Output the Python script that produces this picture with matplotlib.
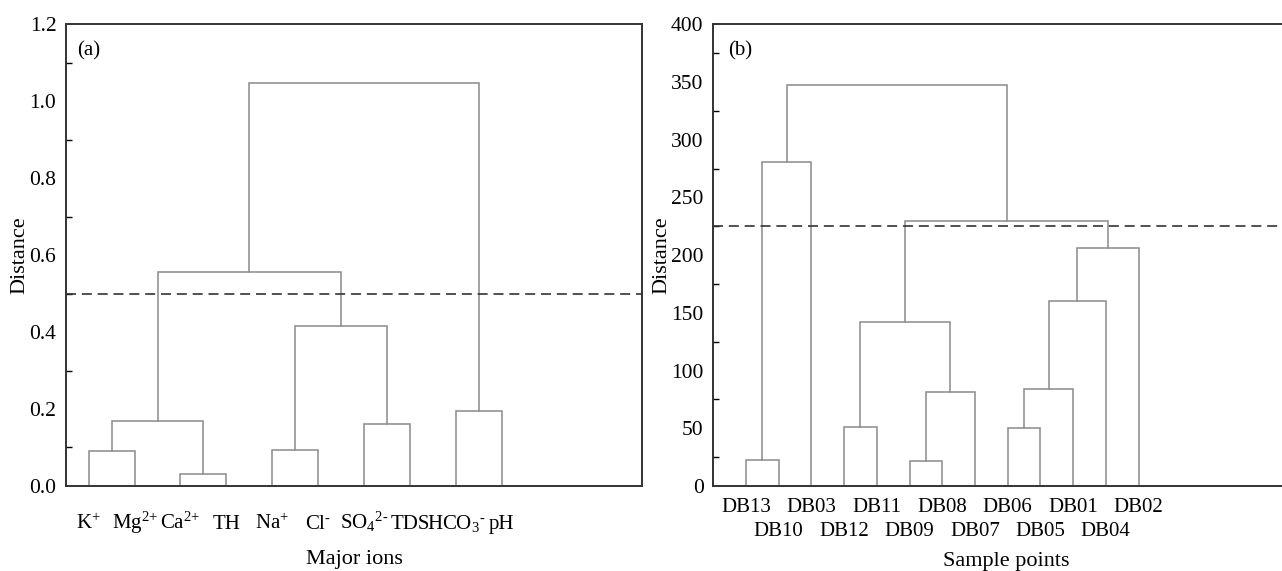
import matplotlib
matplotlib.use('Agg')
import matplotlib.pyplot as plt
from matplotlib.ticker import MultipleLocator, FormatStrFormatter

plt.rcParams['font.family'] = ['Liberation Serif', 'DejaVu Serif']
plt.rcParams['mathtext.fontset'] = 'custom'
plt.rcParams['mathtext.rm'] = 'Liberation Serif'
plt.rcParams['mathtext.it'] = 'Liberation Serif:italic'

# panel (a): major ions, leaves in plotted order
ion_labels = [r'K$^{\text{+}}$', r'Mg$^{\text{2+}}$', r'Ca$^{\text{2+}}$', 'TH',
              r'Na$^{\text{+}}$', r'Cl$^{\text{-}}$', r'SO$_{4}$$^{\text{2-}}$', 'TDS',
              r'HCO$_{3}$$^{\text{-}}$', 'pH']
# merges: (left node, right node, distance); new node ids continue after the leaves
ion_links = [(0, 1, 0.090), (2, 3, 0.032), (10, 11, 0.169),
             (4, 5, 0.094), (6, 7, 0.160), (13, 14, 0.416),
             (12, 15, 0.555), (8, 9, 0.196), (16, 17, 1.047)]
ion_cut = 0.5

# panel (b): sample points
site_labels = ['DB13', 'DB10', 'DB03', 'DB12', 'DB11', 'DB09', 'DB08',
               'DB07', 'DB06', 'DB05', 'DB01', 'DB04', 'DB02']
site_links = [(0, 1, 22.8), (13, 2, 280.8), (3, 4, 51.1), (5, 6, 21.7),
              (16, 7, 81.2), (15, 17, 142.1), (8, 9, 50.0), (19, 10, 84.3),
              (20, 11, 160.6), (21, 12, 206.0), (18, 22, 229.6), (14, 23, 347.2)]
site_cut = 225


def draw_tree(ax, labels, links, color='#8a8a8a'):
    n = len(labels)
    xs = {i: i + 1 for i in range(n)}
    hs = {i: 0.0 for i in range(n)}
    for k, (a, b, h) in enumerate(links):
        ax.plot([xs[a], xs[a], xs[b], xs[b]], [hs[a], h, h, hs[b]],
                color=color, lw=1.1, solid_joinstyle='miter')
        xs[n + k] = (xs[a] + xs[b]) / 2.0
        hs[n + k] = h


def style(ax, ymax, major, minor, fmt):
    ax.set_ylim(0, ymax)
    ax.yaxis.set_major_locator(MultipleLocator(major))
    ax.yaxis.set_minor_locator(MultipleLocator(minor))
    ax.yaxis.set_major_formatter(FormatStrFormatter(fmt))
    ax.tick_params(axis='y', which='major', length=0, labelsize=15.5, pad=7)
    ax.tick_params(axis='y', which='minor', direction='in', length=4, width=1)
    ax.tick_params(axis='x', length=0, labelsize=15)
    for s in ax.spines.values():
        s.set_color('#333333')
        s.set_linewidth(1.4)
    ax.set_ylabel('Distance', fontsize=16, labelpad=0)


fig = plt.figure(figsize=(12.82, 5.71), dpi=100)
ax1 = fig.add_axes([0.0515, 0.149, 0.4493, 0.8082])
ax2 = fig.add_axes([0.5564, 0.149, 0.4577, 0.8082])

draw_tree(ax1, ion_labels, ion_links)
ax1.axhline(ion_cut, color='#333333', lw=1.2, ls=(0, (6, 3.5)))
ax1.set_xlim(0.505, 13.06)
style(ax1, 1.2, 0.2, 0.1, '%.1f')
ax1.set_xticks(range(1, len(ion_labels) + 1))
ax1.set_xticklabels(ion_labels)
# align the ion names on a common baseline
ax1.tick_params(axis='x', pad=31)
for lab in ax1.get_xticklabels():
    lab.set_verticalalignment('baseline')
ax1.set_xlabel('Major ions', fontsize=16, labelpad=10)
ax1.text(0.02, 0.932, '(a)', transform=ax1.transAxes, fontsize=15)

draw_tree(ax2, site_labels, site_links)
ax2.axhline(site_cut, color='#333333', lw=1.2, ls=(0, (6, 3.5)))
ax2.set_xlim(0, 17.94)
style(ax2, 400, 50, 25, '%d')
ax2.spines['right'].set_visible(False)
ax2.set_xticks(range(1, len(site_labels) + 1))
ax2.set_xticklabels(site_labels)
for i, t in enumerate(ax2.xaxis.get_major_ticks()):
    t.set_pad(9 if i % 2 == 0 else 26)
ax2.set_xlabel('Sample points', fontsize=16, labelpad=8)
ax2.text(0.025, 0.932, '(b)', transform=ax2.transAxes, fontsize=15)

fig.savefig('out.png', dpi=100)
